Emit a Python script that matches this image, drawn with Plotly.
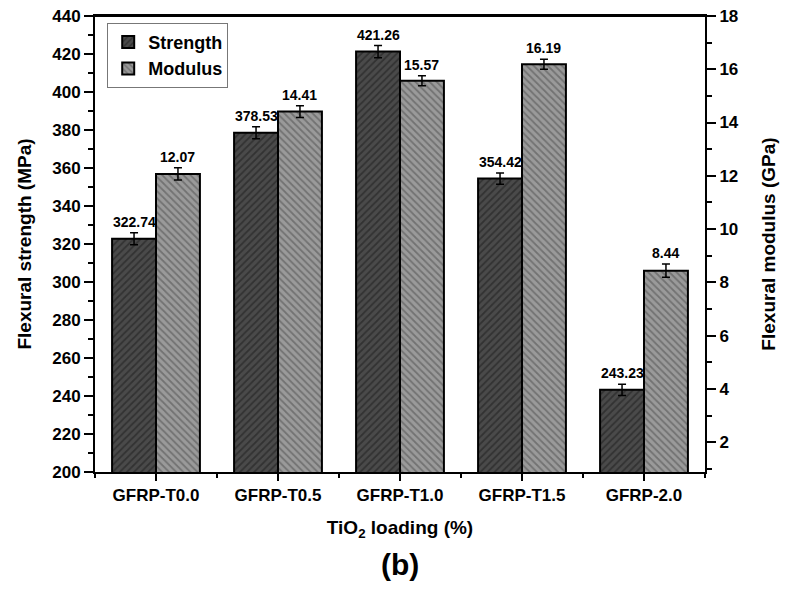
import plotly.graph_objects as go

categories = ["GFRP-T0.0", "GFRP-T0.5", "GFRP-T1.0", "GFRP-T1.5", "GFRP-2.0"]
strength = [322.74, 378.53, 421.26, 354.42, 243.23]
strength_err = [3.2, 3.2, 3.2, 3.0, 3.0]
modulus = [12.07, 14.41, 15.57, 16.19, 8.44]
modulus_err = [0.23, 0.22, 0.19, 0.19, 0.25]

xpos = list(range(len(categories)))
FONT = "Arial, Liberation Sans, sans-serif"
BAR_W = 0.36


def f(size):
    return dict(family=FONT, size=size, color="black", weight="bold")


fig = go.Figure()
fig.add_trace(go.Bar(
    x=xpos, y=strength, name="Strength", width=BAR_W, offset=-BAR_W,
    marker=dict(color="#3a3a3a", line=dict(color="black", width=2),
                pattern=dict(shape="/", fgcolor="#1a1a1a", bgcolor="#4a4a4a", size=5, solidity=0.35)),
    error_y=dict(type="data", array=strength_err, color="black", thickness=1.5, width=4),
    yaxis="y",
))
fig.add_trace(go.Bar(
    x=xpos, y=modulus, name="Modulus", width=BAR_W, offset=0,
    marker=dict(color="#8a8a8a", line=dict(color="black", width=2),
                pattern=dict(shape="\\", fgcolor="#4a4a4a", bgcolor="#9a9a9a", size=5, solidity=0.35)),
    error_y=dict(type="data", array=modulus_err, color="black", thickness=1.5, width=4),
    yaxis="y2",
))

annotations = []
for i, (v, e) in enumerate(zip(strength, strength_err)):
    annotations.append(dict(x=i - BAR_W / 2, y=v + e, yref="y", xref="x", text=f"{v:.2f}",
                            showarrow=False, yanchor="bottom", yshift=1, font=f(14)))
for i, (v, e) in enumerate(zip(modulus, modulus_err)):
    annotations.append(dict(x=i + BAR_W / 2, y=v + e, yref="y2", xref="x", text=f"{v:.2f}",
                            showarrow=False, yanchor="bottom", yshift=1, font=f(14)))
annotations.append(dict(x=0.5, y=-0.203, xref="paper", yref="paper", text="(b)",
                        showarrow=False, yanchor="middle", font=f(30)))

fig.update_layout(
    width=793, height=590,
    margin=dict(l=87, r=96, t=8, b=126),
    plot_bgcolor="white", paper_bgcolor="white",
    font=dict(family=FONT, color="black"),
    barmode="overlay",
    showlegend=True,
    legend=dict(x=0.02, y=0.985, xanchor="left", yanchor="top",
                bordercolor="#777", borderwidth=1, bgcolor="white",
                font=f(18), itemsizing="constant", tracegroupgap=0),
    xaxis=dict(
        range=[-0.5, 4.5], tickmode="array", tickvals=xpos, ticktext=categories,
        showline=True, linecolor="black", linewidth=2, mirror=True,
        ticks="outside", ticklen=7, tickwidth=1.5, tickcolor="black",
        minor=dict(dtick=0.5, tick0=0.5, ticks="outside", ticklen=4, tickwidth=1.5, tickcolor="black"),
        tickfont=f(17), automargin=False,
        title=dict(text="TiO<sub>2</sub> loading (%)", font=f(19), standoff=16),
        showgrid=False, zeroline=False,
    ),
    yaxis=dict(
        range=[200, 440], tick0=200, dtick=20,
        showline=True, linecolor="black", linewidth=2,
        ticks="outside", ticklen=9, tickwidth=1.5, tickcolor="black",
        minor=dict(dtick=10, ticks="outside", ticklen=5, tickwidth=1.5, tickcolor="black"),
        tickfont=f(17), automargin=False, ticklabeloverflow="allow",
        title=dict(text="Flexural strength (MPa)", font=f(19), standoff=16),
        showgrid=False, zeroline=False,
    ),
    yaxis2=dict(
        range=[0.88, 18], tick0=0, dtick=2, overlaying="y", side="right",
        showline=True, linecolor="black", linewidth=2,
        ticks="outside", ticklen=9, tickwidth=1.5, tickcolor="black",
        minor=dict(dtick=1, tick0=1, ticks="outside", ticklen=5, tickwidth=1.5, tickcolor="black"),
        tickfont=f(17), automargin=False, ticklabeloverflow="allow",
        title=dict(text="Flexural modulus (GPa)", font=f(19), standoff=24),
        showgrid=False, zeroline=False,
    ),
    shapes=[dict(type="line", xref="paper", yref="paper", x0=0, x1=1, y0=1, y1=1,
                 line=dict(color="black", width=2))],
    annotations=annotations,
)

fig.write_html("out.html")
